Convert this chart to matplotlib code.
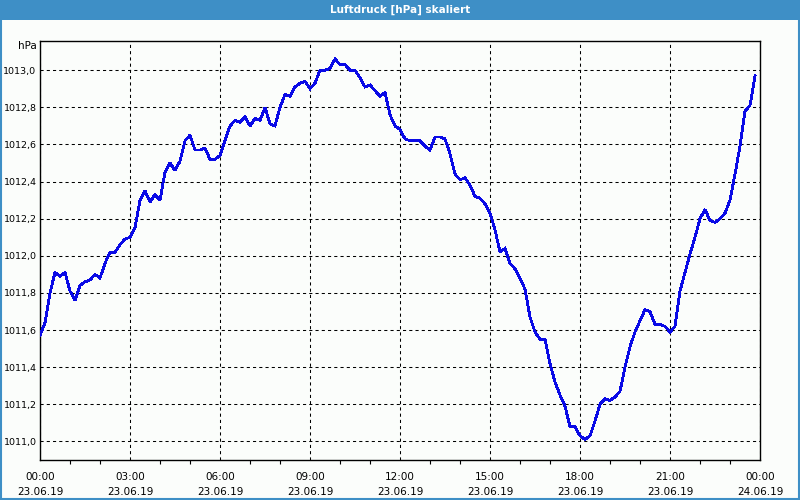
import matplotlib
matplotlib.use("Agg")
import matplotlib.pyplot as plt
import matplotlib.dates as mdates
import matplotlib.ticker as mticker
from matplotlib.patches import Rectangle
import pandas as pd

# Luftdruck, 10-Minuten-Werte ab 23.06.19 00:00
start = "2019-06-23 00:00"
druck = [
    1011.57, 1011.64, 1011.80, 1011.91, 1011.89, 1011.91, 1011.81, 1011.76,
    1011.84, 1011.86, 1011.87, 1011.90, 1011.88, 1011.96, 1012.02, 1012.02,
    1012.06, 1012.09, 1012.10, 1012.15, 1012.30, 1012.35, 1012.29, 1012.33,
    1012.30, 1012.45, 1012.50, 1012.46, 1012.51, 1012.62, 1012.65, 1012.57,
    1012.57, 1012.58, 1012.52, 1012.52, 1012.54, 1012.62, 1012.70, 1012.73,
    1012.72, 1012.75, 1012.70, 1012.74, 1012.73, 1012.80, 1012.71, 1012.70,
    1012.80, 1012.87, 1012.86, 1012.91, 1012.93, 1012.94, 1012.90, 1012.93,
    1013.00, 1013.00, 1013.01, 1013.06, 1013.03, 1013.03, 1013.00, 1013.00,
    1012.96, 1012.91, 1012.92, 1012.89, 1012.86, 1012.88, 1012.76, 1012.70,
    1012.68, 1012.63, 1012.62, 1012.62, 1012.62, 1012.59, 1012.57, 1012.64,
    1012.64, 1012.63, 1012.55, 1012.44, 1012.41, 1012.42, 1012.38, 1012.32,
    1012.31, 1012.28, 1012.23, 1012.14, 1012.02, 1012.04, 1011.96, 1011.93,
    1011.88, 1011.82, 1011.67, 1011.59, 1011.55, 1011.55, 1011.42, 1011.32,
    1011.25, 1011.19, 1011.08, 1011.08, 1011.03, 1011.01, 1011.03, 1011.11,
    1011.20, 1011.23, 1011.22, 1011.24, 1011.27, 1011.40, 1011.51, 1011.59,
    1011.65, 1011.71, 1011.70, 1011.63, 1011.63, 1011.62, 1011.59, 1011.62,
    1011.81, 1011.91, 1012.01, 1012.10, 1012.20, 1012.25, 1012.19, 1012.18,
    1012.20, 1012.23, 1012.30, 1012.44, 1012.59, 1012.78, 1012.81, 1012.97,
]
zeit = pd.date_range(start, periods=len(druck), freq="10min")

titel = "Luftdruck [hPa] skaliert"
einheit = "hPa"
x_von = pd.Timestamp("2019-06-23 00:00")
x_bis = pd.Timestamp("2019-06-24 00:00")
y_von, y_bis = 1010.90, 1013.16

rahmen_blau = "#3e8fc6"
linie_blau = "#0a0ae6"
hintergrund = "#fbfdfb"

plt.rcParams["font.family"] = ["DejaVu Sans"]

fig = plt.figure(figsize=(8, 5), dpi=100, facecolor=hintergrund)

# Titelleiste oben + Rahmen
fig.patches.append(Rectangle((0, 0.96), 1, 0.04, transform=fig.transFigure,
                             facecolor=rahmen_blau, edgecolor="none", zorder=0))
fig.patches.append(Rectangle((0.001, 0.002), 0.998, 0.996, transform=fig.transFigure,
                             facecolor="none", edgecolor=rahmen_blau, linewidth=1.5, zorder=1))
fig.text(0.5, 0.98, titel, color="white", fontsize=7.5, fontweight="bold",
         ha="center", va="center")

ax = fig.add_axes([0.05, 0.08, 0.90, 0.839])
ax.set_facecolor(hintergrund)
ax.plot(zeit, druck, color=linie_blau, linewidth=1.3, antialiased=False,
        solid_joinstyle="miter", zorder=3)

ax.set_xlim(x_von, x_bis)
ax.set_ylim(y_von, y_bis)

ax.xaxis.set_major_locator(mdates.HourLocator(byhour=range(0, 24, 3)))
ax.xaxis.set_minor_locator(mdates.HourLocator())
ax.xaxis.set_major_formatter(mdates.DateFormatter("%H:%M\n%d.%m.%y"))
ax.yaxis.set_major_locator(mticker.MultipleLocator(0.2))
ax.yaxis.set_major_formatter(mticker.FuncFormatter(lambda v, p: f"{v:.1f}".replace(".", ",")))

ax.tick_params(axis="x", which="major", length=0, pad=9, labelsize=7.5)
ax.tick_params(axis="x", which="minor", length=3, width=0.8, direction="out")
ax.tick_params(axis="y", length=0, pad=2.5, labelsize=6.8)
for lbl in ax.get_xticklabels():
    lbl.set_linespacing(1.6)

ax.grid(True, which="major", color="black", linestyle=(0, (3, 3)), linewidth=0.75)
for s in ax.spines.values():
    s.set_linewidth(1.0)
    s.set_color("black")

ax.text(-0.005, 1.0, einheit, transform=ax.transAxes, ha="right", va="top", fontsize=7.5)

fig.savefig("out.png", dpi=100, facecolor=hintergrund)
